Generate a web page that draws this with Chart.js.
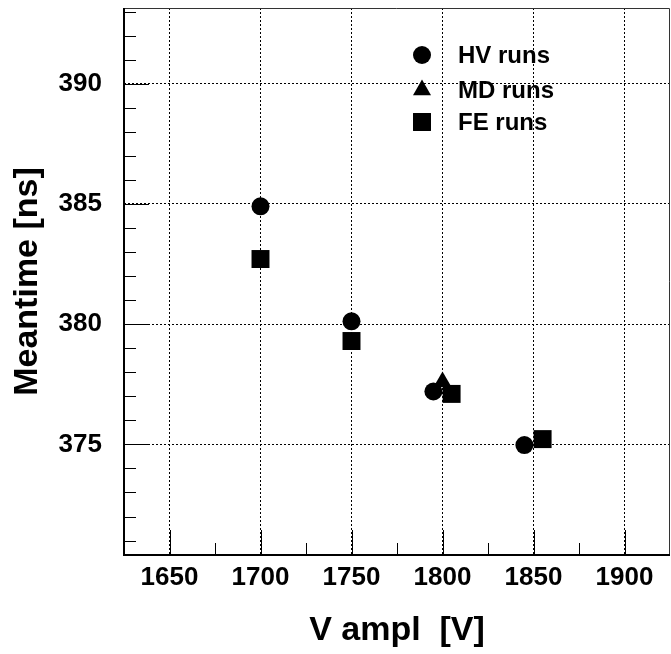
<!DOCTYPE html>
<html>
<head>
<meta charset="utf-8">
<script src="https://cdn.jsdelivr.net/npm/chart.js@4/dist/chart.umd.min.js"></script>
<style>
  html, body { margin: 0; padding: 0; background: #fff; }
  #wrap { width: 671px; height: 654px; }
</style>
</head>
<body>
<div id="wrap"><canvas id="c" width="671" height="654"></canvas></div>
<script>
// values
const hvVolts = [1700, 1750, 1795, 1845];
const hvMeantime = [384.9, 380.12, 377.2, 374.97];
const mdVolts = [1800];
const mdMeantime = [377.6];
const feVolts = [1700, 1750, 1805, 1855];
const feMeantime = [382.71, 379.3, 377.1, 375.22];

const xMajorTicks = [1650, 1700, 1750, 1800, 1850, 1900];
const xMinorTicks = [1675, 1725, 1775, 1825, 1875];
const yMajorTicks = [375, 380, 385, 390];
const yMinorTicks = [371, 372, 373, 374, 376, 377, 378, 379, 381, 382, 383, 384, 386, 387, 388, 389, 391, 392, 393];

const legendLabels = ["HV runs", "MD runs", "FE runs"];

const FONT = "'Liberation Sans', Arial, Helvetica, sans-serif";

function toPoints(xs, ys) {
  return xs.map((x, i) => ({ x: x, y: ys[i] }));
}

const markers = [
  { style: "circle", radius: 9 },
  { style: "triangle", radius: 10.4 },
  { style: "rect", radius: 12.7 },
];

// frame, inner tick marks and in-plot legend
const framePlugin = {
  id: "frame",
  afterDatasetsDraw(chart) {
    const { ctx, chartArea: a, scales } = chart;
    const xs = scales.x;
    const ys = scales.y;
    ctx.save();
    ctx.strokeStyle = "#000";

    ctx.lineWidth = 1;
    ctx.beginPath();
    xMajorTicks.forEach((v) => {
      const px = Math.round(xs.getPixelForValue(v)) + 0.5;
      ctx.moveTo(px, a.bottom);
      ctx.lineTo(px, a.bottom - 25);
    });
    xMinorTicks.forEach((v) => {
      const px = Math.round(xs.getPixelForValue(v)) + 0.5;
      ctx.moveTo(px, a.bottom);
      ctx.lineTo(px, a.bottom - 12);
    });
    yMajorTicks.forEach((v) => {
      const py = Math.round(ys.getPixelForValue(v)) + 0.5;
      ctx.moveTo(a.left, py);
      ctx.lineTo(a.left + 25, py);
    });
    yMinorTicks.forEach((v) => {
      const py = Math.round(ys.getPixelForValue(v)) + 0.5;
      ctx.moveTo(a.left, py);
      ctx.lineTo(a.left + 12, py);
    });
    ctx.stroke();

    // top and right edges are thin, left and bottom heavier
    ctx.strokeStyle = "#333";
    ctx.beginPath();
    ctx.moveTo(a.left, Math.round(a.top) + 0.5);
    ctx.lineTo(a.right - 0.5, Math.round(a.top) + 0.5);
    ctx.lineTo(a.right - 0.5, a.bottom);
    ctx.stroke();

    ctx.strokeStyle = "#000";
    ctx.lineWidth = 2;
    ctx.beginPath();
    ctx.moveTo(a.left, a.top);
    ctx.lineTo(a.left, a.bottom);
    ctx.lineTo(a.right, a.bottom);
    ctx.stroke();

    // legend
    const lx = 422;
    const rows = [55, 90, 122];
    ctx.fillStyle = "#000";
    ctx.font = "bold 24px " + FONT;
    ctx.textBaseline = "middle";
    ctx.textAlign = "left";
    legendLabels.forEach((label, i) => {
      Chart.helpers.drawPoint(ctx, {
        pointStyle: markers[i].style,
        radius: markers[i].radius,
        rotation: 0,
        borderWidth: 0,
      }, lx, rows[i]);
      ctx.fillStyle = "#000";
      ctx.fillText(label, 458, rows[i] + 1);
    });
    ctx.restore();
  },
};

function series(label, xs, ys, m) {
  return {
    label: label,
    data: toPoints(xs, ys),
    pointStyle: m.style,
    pointRadius: m.radius,
    pointHoverRadius: m.radius,
    backgroundColor: "#000",
    borderColor: "#000",
    borderWidth: 0,
  };
}

function noPad(scale) {
  scale.paddingTop = 0;
  scale.paddingBottom = 0;
  scale.paddingLeft = 0;
  scale.paddingRight = 0;
}

new Chart(document.getElementById("c"), {
  type: "scatter",
  data: {
    datasets: [
      series("HV runs", hvVolts, hvMeantime, markers[0]),
      series("MD runs", mdVolts, mdMeantime, markers[1]),
      series("FE runs", feVolts, feMeantime, markers[2]),
    ],
  },
  options: {
    responsive: false,
    animation: false,
    events: [],
    layout: { autoPadding: false, padding: { top: 8, right: 1, left: 0, bottom: 0 } },
    plugins: { legend: { display: false }, tooltip: { enabled: false } },
    scales: {
      x: {
        type: "linear",
        min: 1625,
        max: 1925,
        afterFit(scale) { scale.height = 99; noPad(scale); },
        afterBuildTicks(scale) { scale.ticks = xMajorTicks.map((v) => ({ value: v })); },
        border: { display: false, dash: [2, 2] },
        grid: { color: "#000", lineWidth: 1, drawTicks: false },
        ticks: {
          color: "#000", padding: 7, maxRotation: 0, autoSkip: false,
          font: { family: FONT, size: 26, weight: "bold" },
          callback: (v) => String(v),
        },
        title: { display: true, text: "V ampl  [V]", color: "#000", padding: { top: 0, bottom: 3 }, font: { family: FONT, size: 34, weight: "bold" } },
      },
      y: {
        type: "linear",
        min: 370.4,
        max: 393.15,
        afterFit(scale) { scale.width = 124; noPad(scale); },
        afterBuildTicks(scale) { scale.ticks = yMajorTicks.map((v) => ({ value: v })); },
        border: { display: false, dash: [2, 2] },
        grid: { color: "#000", lineWidth: 1, drawTicks: false },
        ticks: {
          color: "#000", padding: 22, autoSkip: false,
          font: { family: FONT, size: 26, weight: "bold" },
          callback: (v) => String(v),
        },
        title: { display: true, text: "Meantime [ns]", color: "#000", padding: { top: 7, bottom: 0 }, font: { family: FONT, size: 34, weight: "bold" } },
      },
    },
  },
  plugins: [framePlugin],
});
</script>
</body>
</html>
